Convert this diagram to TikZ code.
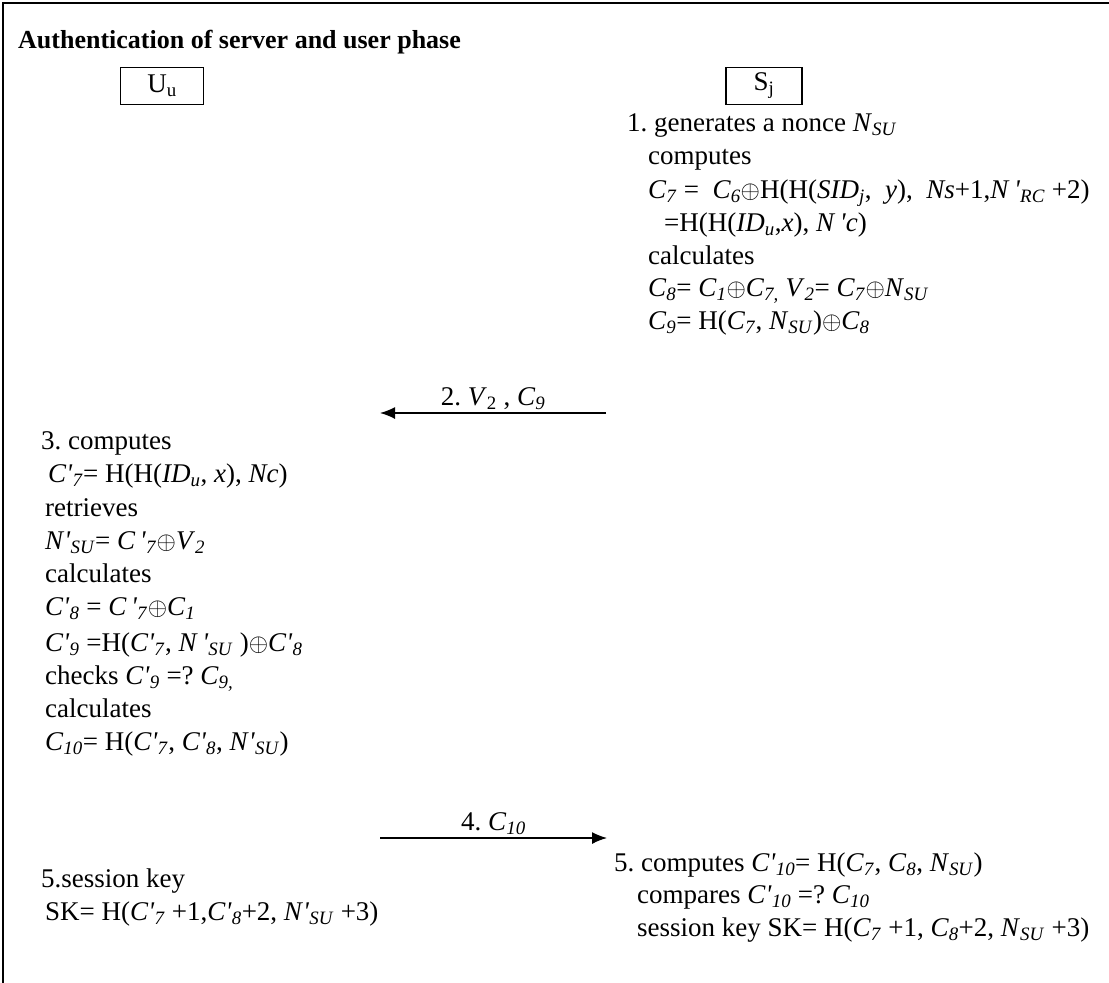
\documentclass[tikz,border=0pt]{standalone}
\usepackage{fontspec}
\setmainfont{Liberation Serif}
\usetikzlibrary{arrows.meta}

% italic variables, italic subscripts, straight prime, xor
\newcommand\vi[1]{\textit{#1}}
\newcommand\low[1]{\textsubscript{\textit{#1}}}
\newcommand\pr{\textit{\textquotesingle}}
\newcommand\xor{$\oplus$}

\begin{document}
\frenchspacing
\begin{tikzpicture}
  [x=1pt, y=-1pt, >={Latex[length=15pt,width=12pt]}, font=\fontsize{27}{30}\selectfont,
   txt/.style={anchor=west, inner sep=0pt, text height=19pt, text depth=6pt},
   party/.style={draw, line width=1.6pt, minimum width=83pt, minimum height=37pt, inner sep=0pt},
   msg/.style={->, line width=1.4pt}]
  \useasboundingbox (0,0) rectangle (1109,983);
  \draw [line width=2pt] (3,983) -- (3,3) -- (1109,3);

  \node [txt, font=\fontsize{26}{30}\selectfont\bfseries] (title) at (18,42) {Authentication of server and user phase};
  \node [party] (user) at (162,86) {U\textsubscript{u}};
  \node [party, minimum width=76pt] (server) at (764,86) {S\textsubscript{j}};

  % server, step 1
  \node [txt] (r1) at (627,125) {1. generates a nonce \vi{N}\low{SU}};
  \node [txt] (r2) at (648,158) {computes};
  \node [txt] (r3) at (648,192) {\vi{C}\low{7} =\ \ \vi{C}\low{6}\xor H(H(\vi{SID}\low{j}, \ \vi{y}), \ \vi{Ns}+1,\vi{N}\,\pr\low{RC} +2)};
  \node [txt] (r4) at (664,225) {=H(H(\vi{ID}\low{u},\vi{x}), \vi{N}\,\pr\vi{c})};
  \node [txt] (r5) at (648,258) {calculates};
  \node [txt] (r6) at (648,290) {\vi{C}\low{8}= \vi{C}\low{1}\xor\vi{C}\low{7,} \vi{V}\low{2}= \vi{C}\low{7}\xor\vi{N}\low{SU}};
  \node [txt] (r7) at (648,323) {\vi{C}\low{9}= H(\vi{C}\low{7}, \vi{N}\low{SU})\xor\vi{C}\low{8}};

  \coordinate (m2s) at (606,413);
  \coordinate (m2e) at (380,413);
  \draw [msg] (m2s) -- node [above=3pt, inner sep=0pt] (m2) {2. \vi{V}\textsubscript{2} , \vi{C}\low{9}} (m2e);

  % user, step 3
  \node [txt] (l1) at (41,443) {3. computes};
  \node [txt] (l2) at (48,476) {\vi{C}\pr\low{7}= H(H(\vi{ID}\low{u}, \vi{x}), \vi{Nc})};
  \node [txt] (l3) at (45,510) {retrieves};
  \node [txt] (l4) at (45,543) {\vi{N}\pr\low{SU}= \vi{C}\,\pr\low{7}\xor\vi{V}\low{2}};
  \node [txt] (l5) at (45,576) {calculates};
  \node [txt] (l6) at (45,609) {\vi{C}\pr\low{8} = \vi{C}\,\pr\low{7}\xor\vi{C}\low{1}};
  \node [txt] (l7) at (45,645) {\vi{C}\pr\low{9} =H(\vi{C}\pr\low{7}, \vi{N}\,\pr\low{SU} )\xor\vi{C}\pr\low{8}};
  \node [txt] (l8) at (45,678) {checks \vi{C}\pr\low{9} =? \vi{C}\low{9,}};
  \node [txt] (l9) at (45,711) {calculates};
  \node [txt] (l10) at (45,744) {\vi{C}\low{10}= H(\vi{C}\pr\low{7}, \vi{C}\pr\low{8}, \vi{N}\pr\low{SU})};

  \coordinate (m4s) at (380,838);
  \coordinate (m4e) at (607,838);
  \draw [msg] (m4s) -- node [above=3pt, inner sep=0pt] (m4) {4. \vi{C}\low{10}} (m4e);

  % step 5, both sides
  \node [txt] (r8) at (614,865) {5. computes \vi{C}\pr\low{10}= H(\vi{C}\low{7}, \vi{C}\low{8}, \vi{N}\low{SU})};
  \node [txt] (r9) at (637,897) {compares \vi{C}\pr\low{10} =? \vi{C}\low{10}};
  \node [txt] (r10) at (637,930) {session key SK= H(\vi{C}\low{7} +1, \vi{C}\low{8}+2, \vi{N}\low{SU} +3)};
  \node [txt] (l11) at (41,881) {5.session key};
  \node [txt] (l12) at (45,914) {SK= H(\vi{C}\pr\low{7} +1,\vi{C}\pr\low{8}+2, \vi{N}\pr\low{SU} +3)};
\end{tikzpicture}
\end{document}
